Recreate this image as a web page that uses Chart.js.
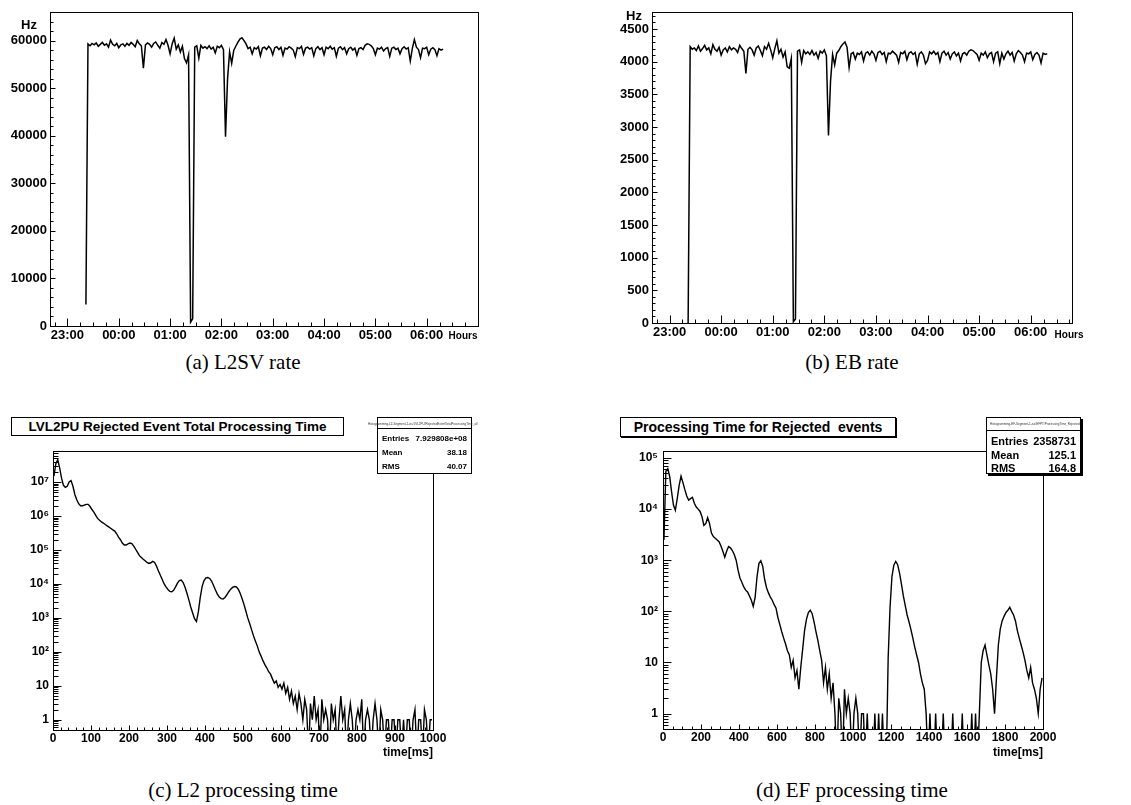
<!DOCTYPE html>
<html>
<head>
<meta charset="utf-8">
<script src="https://cdn.jsdelivr.net/npm/chart.js@4.4.1/dist/chart.umd.min.js"></script>
<style>
    body { margin: 0; background: #fff; }
    #page { position: relative; width: 1131px; height: 805px; overflow: hidden; font-family: "Liberation Sans", Arial, sans-serif; color: #000; }
    canvas { position: absolute; }
    .lbl { position: absolute; transform: translate(-50%, -50%); white-space: nowrap; font-weight: bold; }
    .rlbl { position: absolute; transform: translate(-100%, -50%); white-space: nowrap; font-weight: bold; font-size: 12px; }
    .cap { position: absolute; transform: translate(-50%, -50%); white-space: nowrap; font-family: "Liberation Serif", "Times New Roman", serif; font-size: 21px; }
    .titlebox { position: absolute; box-sizing: border-box; border: 1px solid #000; background: #fff; text-align: center; font-weight: bold; white-space: nowrap; }
    .stats { position: absolute; box-sizing: border-box; border: 1px solid #000; background: #fff; font-weight: bold; }
    .stats .row { position: absolute; left: 4px; right: 4px; display: flex; justify-content: space-between; transform: translateY(-50%); line-height: 1; }
    .stats .tiny { position: absolute; top: 0; white-space: nowrap; font-size: 3px; line-height: 1; color: #333; font-weight: normal; }
    .stats .sep { position: absolute; left: 0; right: 0; border-top: 1px solid #000; }
</style>
</head>
<body>
<div id="page">
    <canvas id="cA" width="565" height="345" style="left:0px;top:0px"></canvas>
    <canvas id="cB" width="566" height="345" style="left:565px;top:0px"></canvas>
    <canvas id="cC" width="565" height="320" style="left:0px;top:440px"></canvas>
    <canvas id="cD" width="566" height="320" style="left:565px;top:440px"></canvas>

    <div class="lbl" style="left:29px;top:24px;font-size:13px">Hz</div>
    <div class="lbl" style="left:634px;top:15px;font-size:13px">Hz</div>
    <div class="lbl" style="left:463px;top:335px;font-size:10px">Hours</div>
    <div class="lbl" style="left:1069px;top:334px;font-size:10px">Hours</div>

    <div class="titlebox" style="left:11px;top:417px;width:333px;height:19px;font-size:13.5px;line-height:17px">LVL2PU Rejected Event Total Processing Time</div>
    <div class="titlebox" style="left:620px;top:417px;width:276px;height:20px;font-size:14px;line-height:18px;box-shadow:1px 1px 0 #000">Processing Time for Rejected&nbsp; events</div>

    <div class="stats" style="left:377px;top:417px;width:95px;height:57px;font-size:8px">
        <div class="tiny" style="left:-10px;top:5px">Histogramming-L2-Segment-1-iss/LVL2PU/RejectedEventTotalProcessingTime_all</div>
        <div class="sep" style="top:10px"></div>
        <div class="row" style="top:21px"><span>Entries</span><span>7.929808e+08</span></div>
        <div class="row" style="top:35px"><span>Mean</span><span>38.18</span></div>
        <div class="row" style="top:49px"><span>RMS</span><span>40.07</span></div>
    </div>
    <div class="stats" style="left:986px;top:417px;width:95px;height:57px;font-size:11px;box-shadow:2px 2px 0 #000">
        <div class="tiny" style="left:3px;top:5px">Histogramming-EF-Segment-1-iss/EFPT/ProcessingTime_Rejected</div>
        <div class="sep" style="top:12px"></div>
        <div class="row" style="top:23px"><span>Entries</span><span>2358731</span></div>
        <div class="row" style="top:37px"><span>Mean</span><span>125.1</span></div>
        <div class="row" style="top:50px"><span>RMS</span><span>164.8</span></div>
    </div>

    <div class="rlbl" style="left:433px;top:752px">time[ms]</div>
    <div class="rlbl" style="left:1043px;top:752px">time[ms]</div>

    <div class="cap" style="left:243px;top:362px">(a) L2SV rate</div>
    <div class="cap" style="left:852px;top:362px">(b) EB rate</div>
    <div class="cap" style="left:243px;top:790px">(c) L2 processing time</div>
    <div class="cap" style="left:852px;top:790px">(d) EF processing time</div>
</div>

<script>
// rates: one sample every rateStep hours, starting rateStart hours after 23:00
var rateStart = 0.36;
var rateStep = 0.04;
var l2svRate = [
    4500, 59300, 58900, 59400, 59100, 59500, 58800, 59200, 59600, 59000,
    59300, 58600, 60100, 59200, 58900, 59400, 58500, 59100, 59300, 58800,
    59400, 59000, 59600, 59200, 58700, 60000, 59300, 58900, 54200, 59100,
    59500, 59200, 58600, 59400, 59700, 59000, 58400, 59600, 59200, 60200,
    59000, 57200, 59300, 60500, 58200, 59100, 57600, 58800, 56200, 55300,
    57000, 800, 1500, 58600, 58900, 56300, 59000, 58400, 58700, 58300,
    58900, 58200, 58600, 57400, 58800, 58500, 59000, 58100, 39800, 52000,
    57600, 55200, 57900, 58800, 59600, 60300, 60600, 60000, 59300, 58300,
    58600, 57200, 58500, 58200, 58700, 56800, 58400, 58600, 58100, 58800,
    58300, 57000, 58500, 58700, 58100, 58600, 56900, 58400, 58200, 58700,
    58400, 58000, 56600, 58500, 58300, 58800, 57100, 58400, 58600, 58200,
    58500, 56800, 58300, 58700, 58100, 58500, 57000, 58600, 58300, 58800,
    58200, 58500, 56700, 58400, 58700, 58100, 58500, 57200, 58300, 58600,
    58000, 58400, 56900, 58300, 58500, 58100, 59000, 59300, 59200, 58900,
    58300, 57000, 58400, 58200, 58600, 57800, 58300, 58500, 56700, 58400,
    58600, 58100, 58400, 57200, 58300, 58700, 58200, 58500, 55700, 58300,
    60200, 58600, 58100, 56400, 58400, 58300, 58600, 57000, 58200, 58500,
    58100, 56800, 58300, 58000, 58200
];
var ebRate = [
    0, 4230, 4190, 4210, 4170, 4240, 4160, 4200, 4250, 4180,
    4210, 4120, 4260, 4190, 4160, 4220, 4100, 4180, 4210, 4150,
    4230, 4180, 4210, 4190, 4140, 4250, 4200, 4160, 3820, 4190,
    4220, 4180, 4100, 4210, 4240, 4170, 4090, 4230, 4190, 4280,
    4180, 4060, 4200, 4320, 4130, 4190, 4070, 4150, 3920, 3900,
    4050, 20, 60, 4160, 4180, 3990, 4170, 4120, 4150, 4110,
    4170, 4100, 4140, 4050, 4160, 4130, 4180, 4090, 2870, 3700,
    4110, 3950, 4130, 4170, 4230, 4270, 4300, 4220, 3910, 4120,
    4140, 4040, 4130, 4110, 4150, 4010, 4130, 4150, 4100, 4160,
    4120, 4020, 4140, 4160, 4110, 4140, 4000, 4130, 4120, 4160,
    4130, 4100, 3990, 4140, 4120, 4160, 4030, 4130, 4150, 4110,
    4140, 3960, 4120, 4150, 4100, 3970, 4020, 4150, 4120, 4160,
    4110, 4140, 4000, 4130, 4160, 4100, 4140, 4040, 4120, 4150,
    4090, 4130, 4010, 4120, 4140, 4100, 4160, 4180, 4170, 4140,
    4110, 4020, 4130, 4100, 4150, 4060, 4120, 4140, 4000, 4130,
    4150, 3970, 4130, 4040, 4120, 4160, 4100, 4140, 4010, 4120,
    4170, 4140, 4100, 4000, 4130, 4120, 4150, 4030, 4110, 4140,
    4100, 3980, 4130, 4110, 4120
];
var hourTickValues = [0, 1, 2, 3, 4, 5, 6, 7];
var hourTickLabels = ['23:00', '00:00', '01:00', '02:00', '03:00', '04:00', '05:00', '06:00'];

// L2 processing time histogram, 5 ms bins
var l2BinWidth = 5;
var l2Counts = [
    1.5e7, 3.5e7, 4.5e7, 2.6e7, 1.3e7, 8.0e6, 7.0e6, 7.5e6, 1.0e7, 1.1e7,
    7.5e6, 4.3e6, 3.0e6, 2.3e6, 2.0e6, 2.0e6, 2.1e6, 2.2e6, 2.2e6, 1.9e6,
    1.55e6, 1.3e6, 1.05e6, 8.5e5, 7.5e5, 6.7e5, 6.2e5, 5.6e5, 5.1e5, 4.7e5,
    4.3e5, 3.9e5, 3.6e5, 3.0e5, 2.4e5, 2.0e5, 1.6e5, 1.4e5, 1.4e5, 1.5e5,
    1.6e5, 1.55e5, 1.3e5, 1.05e5, 8.5e4, 6.8e4, 6.0e4, 5.3e4, 4.8e4, 4.3e4,
    4.0e4, 4.2e4, 4.6e4, 4.3e4, 3.3e4, 2.4e4, 1.8e4, 1.35e4, 1.0e4, 8.2e3,
    6.8e3, 6.0e3, 5.9e3, 6.5e3, 8.2e3, 1.05e4, 1.25e4, 1.3e4, 1.1e4, 8.0e3,
    5.3e3, 3.4e3, 2.1e3, 1.4e3, 950, 780, 1.5e3, 4.0e3, 8.5e3, 1.25e4,
    1.5e4, 1.55e4, 1.45e4, 1.2e4, 9.0e3, 6.6e3, 5.0e3, 4.1e3, 3.7e3, 3.6e3,
    4.0e3, 4.8e3, 5.9e3, 7.0e3, 7.9e3, 8.4e3, 8.2e3, 7.0e3, 5.3e3, 3.7e3,
    2500, 1600, 1000, 680, 450, 300, 210, 150, 100, 75,
    55, 42, 34, 26, 22, 16, 12, 14, 9, 11,
    8, 12, 6, 9, 4, 7, 3, 5, 2, 6,
    3, 1, 4, 2, 0, 3, 1, 5, 1, 2,
    0, 4, 1, 2, 1, 0, 3, 1, 2, 0,
    1, 5, 1, 2, 0, 1, 3, 1, 0, 1,
    2, 1, 4, 0, 1, 2, 1, 0, 1, 3,
    1, 0, 2, 1, 0, 1, 1, 0, 1, 1,
    0, 1, 1, 0, 1, 0, 1, 1, 0, 1,
    2, 0, 1, 1, 0, 2, 1, 0, 1, 1
];

// EF processing time histogram, 10 ms bins
var efBinWidth = 10;
var efCounts = [
    2500, 55000, 62000, 44000, 22000, 12000, 9500, 16000, 29000, 44000,
    33000, 24000, 18000, 15000, 16000, 17000, 13000, 11000, 10000, 9000,
    7200, 4800, 5200, 6800, 5200, 3400, 2900, 2700, 2500, 2300,
    1900, 1500, 1150, 1500, 1850, 1750, 1550, 1300, 1000, 640,
    450, 370, 300, 260, 240, 200, 165, 125, 190, 480,
    870, 980, 760, 420, 290, 230, 190, 165, 135, 115,
    75, 55, 40, 30, 23, 17, 14, 8, 11, 5,
    7, 3, 8, 18, 42, 70, 95, 105, 90, 62,
    40, 27, 17, 11, 4, 8, 3, 6, 2, 4,
    1, 0, 2, 1, 0, 3, 1, 2, 1, 0,
    1, 2, 1, 0, 1, 1, 0, 1, 0, 0,
    0, 1, 0, 1, 0, 1, 0, 0, 12, 120,
    480, 800, 950, 820, 560, 340, 200, 130, 85, 62,
    44, 30, 20, 14, 10, 6, 4, 3, 1, 0,
    1, 0, 0, 1, 0, 0, 0, 1, 0, 0,
    0, 0, 1, 0, 0, 0, 0, 1, 0, 0,
    0, 0, 1, 0, 1, 0, 1, 10, 17, 22,
    14, 9, 6, 3, 1, 5, 22, 45, 65, 80,
    95, 105, 120, 100, 85, 65, 42, 30, 22, 16,
    11, 7, 5, 8, 4, 3, 2, 1, 3, 5
];

var logTickValues = [1, 10, 100, 1000, 1e4, 1e5, 1e6, 1e7];
var logTickLabels = ['1', '10', '10²', '10³', '10⁴', '10⁵', '10⁶', '10⁷'];

Chart.defaults.font.family = '"Liberation Sans", Arial, sans-serif';
Chart.defaults.font.weight = 'bold';
Chart.defaults.color = '#000';

// frame + inward ticks like ROOT
var rootFrame = {
    id: 'rootFrame',
    afterDatasetsDraw: function (chart, args, opts) {
        var ctx = chart.ctx;
        var a = chart.chartArea;
        var xs = chart.scales.x, ys = chart.scales.y;
        var l = Math.round(a.left) + 0.5, r = Math.round(a.right) + 0.5;
        var t = Math.round(a.top) + 0.5, b = Math.round(a.bottom) + 0.5;
        ctx.save();
        ctx.strokeStyle = '#000';
        ctx.lineWidth = 1;
        ctx.strokeRect(l, t, r - l, b - t);
        ctx.beginPath();
        xs.ticks.forEach(function (tk) {
            var px = Math.round(xs.getPixelForValue(tk.value)) + 0.5;
            if (px < l - 0.1 || px > r + 0.1) return;
            ctx.moveTo(px, b);
            ctx.lineTo(px, b - (tk.big ? opts.xBig : opts.xSmall));
        });
        ys.ticks.forEach(function (tk) {
            var py = Math.round(ys.getPixelForValue(tk.value)) + 0.5;
            if (py < t - 0.1 || py > b + 0.1) return;
            ctx.moveTo(l, py);
            ctx.lineTo(l + (tk.big ? opts.yBig : opts.ySmall), py);
        });
        ctx.stroke();
        ctx.restore();
    }
};

function LinTicks(min, max, minor, major) {
    var out = [];
    for (var n = Math.ceil(min / minor - 1e-9); n <= Math.floor(max / minor + 1e-9); n++) {
        var v = +(n * minor).toFixed(6);
        var k = v / major;
        out.push({ value: v, big: Math.abs(k - Math.round(k)) < 1e-6 });
    }
    return out;
}

function LogTicks(min, max) {
    var out = [];
    for (var e = -1; e <= 8; e++) {
        var d = Math.pow(10, e);
        for (var m = 1; m <= 9; m++) {
            var v = e < 0 ? m / 10 : d * m;
            if (v >= min && v <= max) out.push({ value: v, big: m === 1 });
        }
    }
    return out;
}

function RatePoints(values) {
    return values.map(function (v, i) { return { x: +(rateStart + i * rateStep).toFixed(4), y: v }; });
}

function HistPoints(counts, w) {
    // empty bins fall below the log axis, like ROOT
    return counts.map(function (v, i) { return { x: (i + 0.5) * w, y: v > 0 ? v : 0.1 }; });
}

function HourLabel(v) {
    var i = hourTickValues.indexOf(v);
    return i >= 0 ? hourTickLabels[i] : '';
}

function LogLabel(v) {
    var i = logTickValues.indexOf(v);
    return i >= 0 ? logTickLabels[i] : '';
}

function VeRoot(id, c) {
    return new Chart(document.getElementById(id), {
        type: 'line',
        data: {
            datasets: [{
                data: c.points,
                borderColor: '#000',
                borderWidth: c.lineWidth,
                pointRadius: 0,
                tension: 0,
                fill: false
            }]
        },
        options: {
            responsive: false,
            animation: false,
            events: [],
            layout: { padding: { top: c.padTop, right: c.padRight, left: 0, bottom: 0 } },
            plugins: {
                legend: { display: false },
                tooltip: { enabled: false },
                rootFrame: c.tickLen
            },
            scales: {
                x: {
                    type: 'linear', min: c.xMin, max: c.xMax,
                    grid: { display: false, drawTicks: false },
                    border: { display: false },
                    ticks: { autoSkip: false, maxRotation: 0, padding: c.xPad, font: { size: c.xFont }, callback: c.xLabel },
                    afterBuildTicks: function (s) { s.ticks = c.xTicks; },
                    afterFit: function (s) { s.height = c.xHeight; s.paddingLeft = 0; s.paddingRight = 0; }
                },
                y: {
                    type: c.yType, min: c.yMin, max: c.yMax,
                    grid: { display: false, drawTicks: false },
                    border: { display: false },
                    ticks: { autoSkip: false, padding: c.yPad, font: { size: c.yFont }, callback: c.yLabel },
                    afterBuildTicks: function (s) { s.ticks = c.yTicks; },
                    afterFit: function (s) { s.width = c.yWidth; s.paddingTop = 0; s.paddingBottom = 0; }
                }
            }
        },
        plugins: [rootFrame]
    });
}

// (a) L2SV rate
VeRoot('cA', {
    points: RatePoints(l2svRate), lineWidth: 1.5,
    padTop: 12, padRight: 87, xHeight: 19, yWidth: 50,
    xMin: -0.34, xMax: 8.0, xTicks: LinTicks(-0.34, 8.0, 0.25, 1), xLabel: HourLabel, xPad: 2, xFont: 13,
    yType: 'linear', yMin: 0, yMax: 66000, yTicks: LinTicks(0, 66000, 2000, 10000),
    yLabel: function (v) { return v % 10000 === 0 ? String(v) : ''; }, yPad: 3, yFont: 13,
    tickLen: { xBig: 8, xSmall: 4, yBig: 5, ySmall: 3 }
});

// (b) EB rate
VeRoot('cB', {
    points: RatePoints(ebRate), lineWidth: 1.5,
    padTop: 12, padRight: 59, xHeight: 22, yWidth: 87,
    xMin: -0.34, xMax: 7.8, xTicks: LinTicks(-0.34, 7.8, 0.25, 1), xLabel: HourLabel, xPad: 2, xFont: 13,
    yType: 'linear', yMin: 0, yMax: 4760, yTicks: LinTicks(0, 4760, 100, 500),
    yLabel: function (v) { return v % 500 === 0 ? String(v) : ''; }, yPad: 3, yFont: 13,
    tickLen: { xBig: 8, xSmall: 4, yBig: 5, ySmall: 3 }
});

// (c) L2 processing time
VeRoot('cC', {
    points: HistPoints(l2Counts, l2BinWidth), lineWidth: 1.4,
    padTop: 11, padRight: 132, xHeight: 30, yWidth: 53,
    xMin: 0, xMax: 1000, xTicks: LinTicks(0, 1000, 20, 100),
    xLabel: function (v) { return v % 100 === 0 ? String(v) : ''; }, xPad: 1, xFont: 12,
    yType: 'logarithmic', yMin: 0.5, yMax: 8.2e7, yTicks: LogTicks(0.5, 8.2e7),
    yLabel: LogLabel, yPad: 4, yFont: 12,
    tickLen: { xBig: 5, xSmall: 3, yBig: 8, ySmall: 5 }
});

// (d) EF processing time
VeRoot('cD', {
    points: HistPoints(efCounts, efBinWidth), lineWidth: 1.4,
    padTop: 11, padRight: 88, xHeight: 31, yWidth: 98,
    xMin: 0, xMax: 2000, xTicks: LinTicks(0, 2000, 50, 200),
    xLabel: function (v) { return v % 200 === 0 ? String(v) : ''; }, xPad: 1, xFont: 12,
    yType: 'logarithmic', yMin: 0.5, yMax: 1.37e5, yTicks: LogTicks(0.5, 1.37e5),
    yLabel: LogLabel, yPad: 5, yFont: 12,
    tickLen: { xBig: 5, xSmall: 3, yBig: 8, ySmall: 5 }
});
</script>
</body>
</html>
